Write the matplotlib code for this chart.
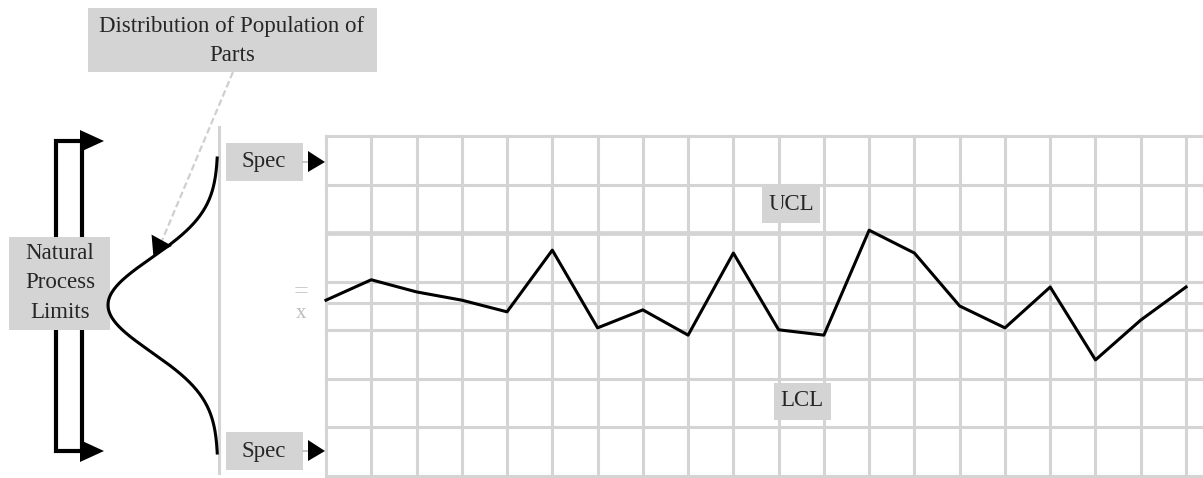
import numpy as np
import matplotlib
matplotlib.use("Agg")
import matplotlib.pyplot as plt
from matplotlib.patches import Rectangle, Polygon, FancyArrowPatch

# control chart data (sample number -> measurement, in grid units)
samples = np.arange(20)
values = [3.62, 4.04, 3.79, 3.62, 3.38, 4.65, 3.05, 3.42, 2.90, 4.59,
          3.01, 2.90, 5.06, 4.59, 3.50, 3.05, 3.89, 2.39, 3.21, 3.89]
center = 3.56
ucl = 5.0
lcl = 2.0
n_rows = 7

# sideways distribution curve (schematic normal curve)
dist_mean = 305
dist_sigma = 47
dist_height = 110

grey = "#d4d4d4"
txt = "#262626"
font = "Liberation Serif"
fs = 16.5

W, H = 1203, 478
fig = plt.figure(figsize=(W / 100, H / 100), dpi=100)
fig.patch.set_facecolor("white")

# background axes in pixel coordinates for the diagram part
ax0 = fig.add_axes([0, 0, 1, 1])
ax0.set_xlim(0, W)
ax0.set_ylim(H, 0)
ax0.axis("off")

# chart axes
x0, x1, ytop, ybot = 326, 1203, 136, 476
col = (1186 - 326) / 19
ax = fig.add_axes([x0 / W, (H - ybot) / H, (x1 - x0) / W, (ybot - ytop) / H])
ax.set_xlim(0, (x1 - x0) / col)
ax.set_ylim(0, n_rows)
ax.axis("off")

for i in range(len(samples)):
    ax.axvline(i, color=grey, lw=2.2, clip_on=False, zorder=1)
for j in range(n_rows + 1):
    ax.axhline(j, color=grey, lw=2.2, clip_on=False, zorder=1)
ax.axhline(center, color=grey, lw=2.2, zorder=1)
ax.axhline(ucl, color=grey, lw=3.4, zorder=1)
ax.plot(samples, values, color="black", lw=2.2, zorder=3, clip_on=False)

def box(x, y, w, h):
    ax0.add_patch(Rectangle((x, y), w, h, fc=grey, ec="none", zorder=2))

def label(x, y, s, ls=1.2):
    ax0.text(x, y, s, ha="center", va="center", fontsize=fs, family=font,
             color=txt, linespacing=ls, zorder=4)

# distribution box and leader
box(88, 8, 289, 64)
label(232, 41, "Distribution of Population of\nParts", ls=1.45)
ax0.plot([233, 161], [72, 243], color="#cfcfcf", lw=1.6, ls=(0, (3, 1.5)), zorder=1)
ax0.add_patch(FancyArrowPatch((163, 238), (152, 258), arrowstyle="-|>,head_length=0.9,head_width=0.6",
                              mutation_scale=14, color="black", lw=0, zorder=5))

# bracket for natural process limits
ax0.add_patch(Rectangle((56, 141), 26, 310, fill=False, ec="black", lw=3, zorder=2))
for yy in (141, 451):
    ax0.add_patch(Polygon([(80, yy - 11), (80, yy + 11), (104, yy)], closed=True,
                          fc="black", ec="none", zorder=3))
box(9, 237, 101, 93)
label(60, 283, "Natural\nProcess\nLimits", ls=1.55)

# sideways bell curve with its baseline
ax0.plot([219, 219], [127, 473], color=grey, lw=2.2, zorder=1)
yc = np.linspace(158, 453, 300)
xc = 218 - dist_height * np.exp(-((yc - dist_mean) ** 2) / (2 * dist_sigma ** 2))
ax0.plot(xc, yc, color="black", lw=2.2, zorder=3)

# spec boxes with arrows
for yy in (162, 451):
    box(226, yy - 19, 77, 38)
    label(264, yy, "Spec")
    ax0.plot([303, 309], [yy, yy], color="#bbbbbb", lw=1.2, zorder=2)
    ax0.add_patch(Polygon([(308, yy - 11), (308, yy + 10), (325, yy)], closed=True,
                          fc="black", ec="none", zorder=3))

# grand mean label
ax0.text(301, 292, "=", ha="center", va="center", fontsize=19, color="#cccccc", family=font)
ax0.text(301, 314, "x", ha="center", va="center", fontsize=15, color="#bbbbbb", family=font)

# UCL / LCL labels
box(762, 187, 58, 36)
label(791, 205, "UCL")
box(774, 383, 57, 37)
label(802, 401, "LCL")

fig.savefig("out.png", dpi=100, facecolor="white")
